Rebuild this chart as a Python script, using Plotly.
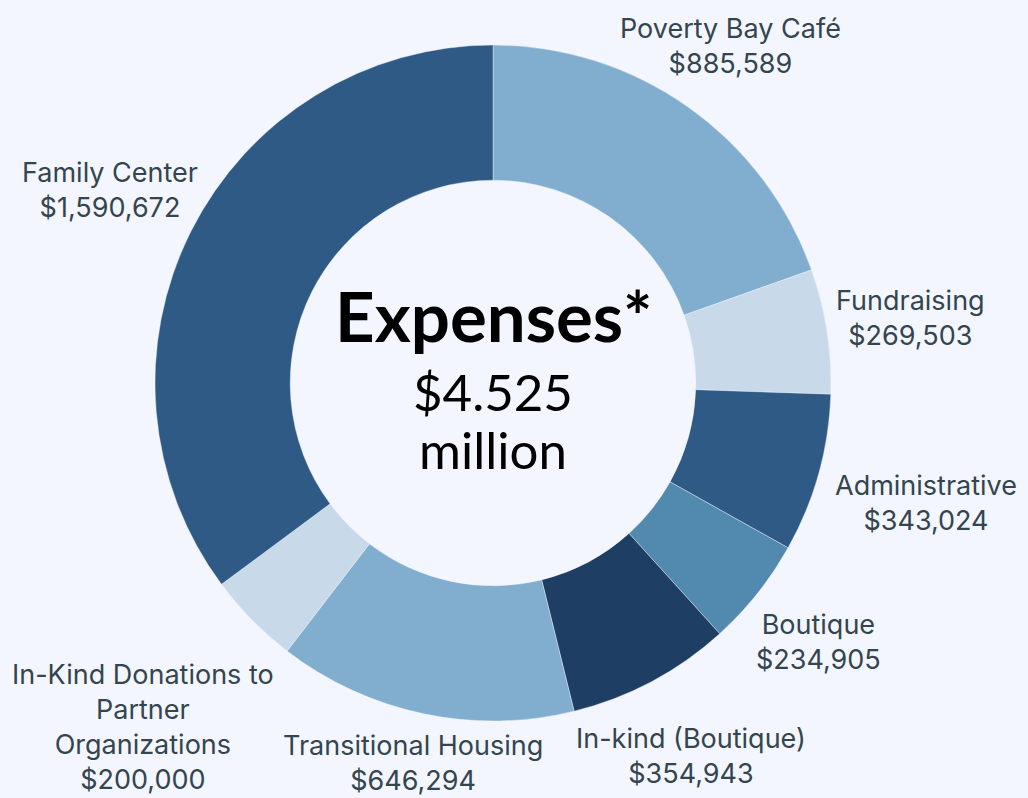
import math
import plotly.graph_objects as go

# ---- data ----
categories = ["Poverty Bay Café", "Fundraising", "Administrative", "Boutique",
              "In-kind (Boutique)", "Transitional Housing",
              "In-Kind Donations to Partner Organizations", "Family Center"]
label_text = ["Poverty Bay Café", "Fundraising", "Administrative", "Boutique",
              "In-kind (Boutique)", "Transitional Housing",
              "In-Kind Donations to<br>Partner<br>Organizations", "Family Center"]
values = [885589, 269503, 343024, 234905, 354943, 646294, 200000, 1590672]
center_title = "Expenses*"
center_amount = "$4.525"
center_unit = "million"

# ---- style ----
colors = ["#81AECE", "#C8D9EA", "#2E5A85", "#528AAF",
          "#1F3E64", "#81AECE", "#C8D9EA", "#2E5A85"]
label_dist = [1.22, 1.25, 1.33, 1.23, 1.25, 1.15, 1.45, 1.27]
bg = "#F3F6FE"
W, H = 1028, 798
cx, cy, R = 493, 383, 338

fig = go.Figure(go.Pie(
    labels=categories, values=values, sort=False, direction="clockwise",
    rotation=0, hole=0.6,
    marker=dict(colors=colors, line=dict(color=bg, width=0.4)),
    textinfo="none", hoverinfo="label+value", showlegend=False,
    domain=dict(x=[(cx - R) / W, (cx + R) / W], y=[1 - (cy + R) / H, 1 - (cy - R) / H]),
))

total = sum(values)
cum = 0
annotations = []
for lab, v, f in zip(label_text, values, label_dist):
    mid = (cum + v / 2) / total * 2 * math.pi
    cum += v
    px = cx + R * f * math.sin(mid)
    py = cy - R * f * math.cos(mid)
    annotations.append(dict(
        x=px / W, y=1 - py / H, xref="paper", yref="paper",
        text=f"{lab}<br>${v:,}", showarrow=False, align="center",
        xanchor="center", yanchor="middle",
        font=dict(family="Inter, Noto Sans, sans-serif", size=27, color="#34454F"),
    ))

annotations.append(dict(x=cx / W, y=1 - 315 / H, xref="paper", yref="paper",
                        text=f"<b>{center_title}</b>", showarrow=False,
                        font=dict(family="Lato, sans-serif", size=69, color="#000000")))
annotations.append(dict(x=cx / W, y=1 - 391 / H, xref="paper", yref="paper",
                        text=center_amount, showarrow=False,
                        font=dict(family="Lato, sans-serif", size=51, color="#000000")))
annotations.append(dict(x=cx / W, y=1 - 449 / H, xref="paper", yref="paper",
                        text=center_unit, showarrow=False,
                        font=dict(family="Lato, sans-serif", size=51, color="#000000")))

fig.update_layout(
    width=W, height=H, margin=dict(l=0, r=0, t=0, b=0),
    paper_bgcolor=bg, plot_bgcolor=bg, annotations=annotations,
)
fig.write_html("out.html", config={"displayModeBar": False},
               post_script="document.body.style.margin='0';document.body.style.overflow='hidden';")
